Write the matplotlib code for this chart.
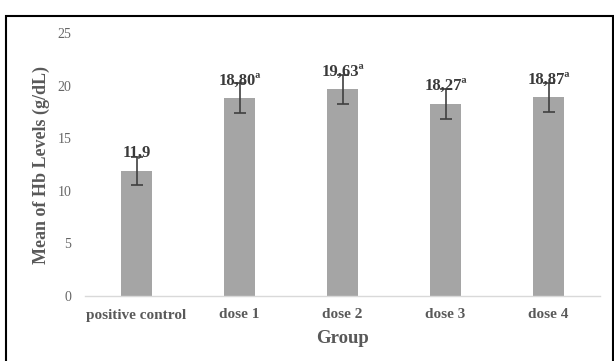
import matplotlib
matplotlib.use("Agg")
import matplotlib.pyplot as plt
from matplotlib.patches import Rectangle

categories = ["positive control", "dose 1", "dose 2", "dose 3", "dose 4"]
means = [11.9, 18.80, 19.63, 18.27, 18.87]
errors = [1.35, 1.40, 1.35, 1.45, 1.35]
labels = ["11,9", "18,80ª", "19,63ª", "18,27ª", "18,87ª"]
yticks = [0, 5, 10, 15, 20, 25]

W, H = 614, 361
fig = plt.figure(figsize=(W / 100, H / 100), dpi=100)
ax = fig.add_axes([85 / W, 1 - 296 / H, (600 - 85) / W, (296 - 33) / H])

x = list(range(len(categories)))
ax.bar(x, means, width=0.31, color="#A5A5A5", zorder=2)
ax.errorbar(x, means, yerr=errors, fmt="none", ecolor="#404040",
            elinewidth=1.2, capsize=4, capthick=1.2, zorder=3)

for xi, m, lab in zip(x, means, labels):
    ax.text(xi, m + 0.9, lab, ha="center", va="bottom", fontsize=12,
            fontweight="bold", family="Liberation Serif", color="#3a3a3a",
            zorder=4)

ax.set_xlim(-0.5, len(categories) - 0.5)
ax.set_ylim(0, 25)
ax.set_yticks(yticks)
ax.set_yticklabels([str(t) for t in yticks], family="Liberation Serif",
                   fontsize=10, color="#666666")
ax.set_xticks(x)
ax.set_xticklabels(categories, family="Liberation Serif", fontsize=11,
                   fontweight="bold", color="#595959")
ax.tick_params(axis="both", length=0)
ax.tick_params(axis="y", pad=10)
ax.tick_params(axis="x", pad=9)
for s in ["top", "right", "left"]:
    ax.spines[s].set_visible(False)
ax.spines["bottom"].set_color("#D9D9D9")
ax.spines["bottom"].set_linewidth(1.0)

ax.set_xlabel("Group", family="Liberation Serif", fontsize=13.5,
              fontweight="bold", color="#595959", labelpad=6)
ax.set_ylabel("Mean of Hb Levels (g/dL)", family="Liberation Serif",
              fontsize=13, fontweight="bold", color="#595959", labelpad=5)

fig.patches.append(Rectangle((6 / W, -0.05), (W - 7) / W, 1 - 16 / H + 0.05,
                             transform=fig.transFigure, fill=False,
                             edgecolor="black", linewidth=1.5))

fig.savefig("out.png", dpi=100)
